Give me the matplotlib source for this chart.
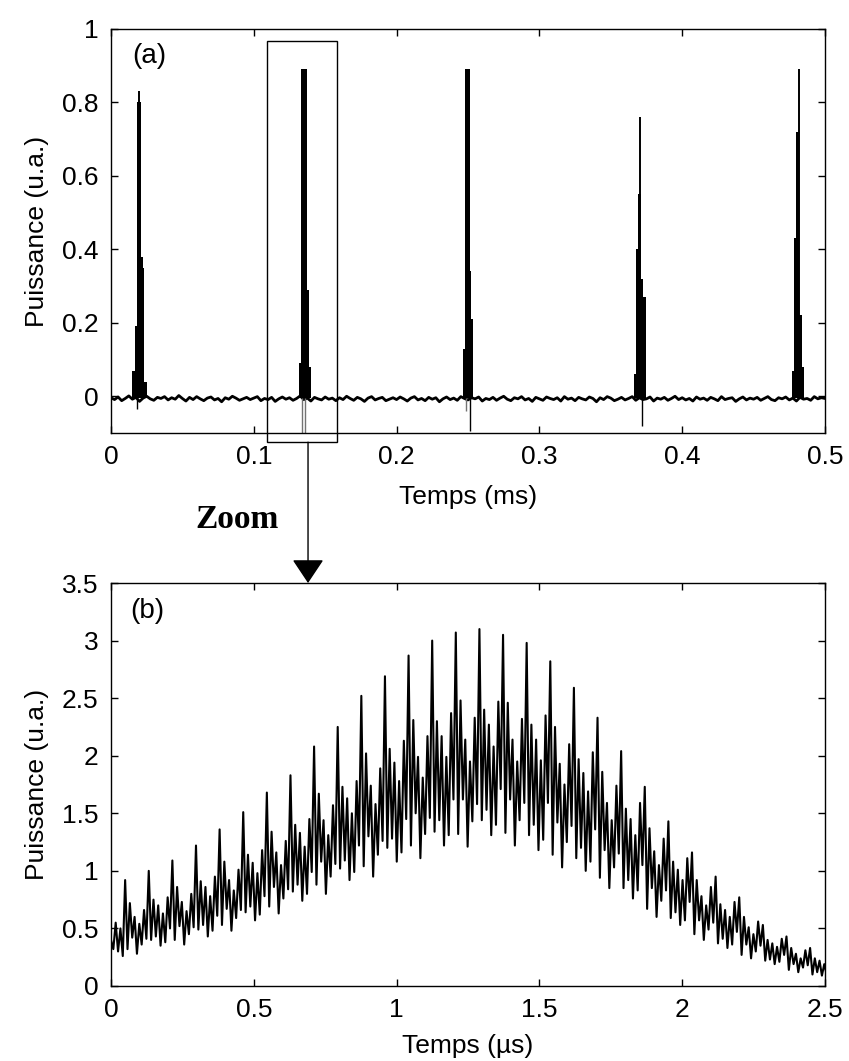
import numpy as np
import matplotlib.pyplot as plt
from matplotlib.patches import Rectangle, ConnectionPatch

plt.rcParams['font.family'] = ['Liberation Sans', 'DejaVu Sans']

# ---- panel (a): pulse train ----
# baseline noise in thousandths of u.a., one sample every 0.0025 ms
noise_dt = 0.0025
noise_milli = [
    -4, -9, -2, -12, -6, 1, -8, -3, -14, -5, 0, -7, -11, -3, -6, -1, -10, -4, -8, 2,
    -6, -13, -3, -9, -1, -7, -12, -5, -2, -10, -6, -15, -4, -8, 0, -5, -11, -7, -3, -9,
    -5, -1, -12, -6, -9, -3, -14, -7, -2, -8, -4, -11, -6, 1, -9, -5, -13, -3, -7, -10,
    -2, -8, -5, -12, -4, -9, 0, -6, -11, -3, -7, -14, -5, -1, -10, -6, -3, -12, -8, -4,
    -9, -2, -7, -13, -5, -1, -10, -6, -12, -3, -8, -4, -15, -7, -2, -9, -5, -11, -1, -6,
    -10, -4, -7, -2, -13, -6, -9, -3, -11, -5, 0, -8, -12, -4, -7, -1, -10, -6, -14, -3,
    -7, -11, -2, -6, -9, -4, -13, -1, -8, -5, -12, -3, -7, -10, -2, -6, -15, -4, -9, -1,
    -5, -12, -8, -3, -10, -6, -1, -11, -4, -9, -7, -2, -13, -5, -8, -3, -11, -6, 0, -9,
    -4, -10, -6, -13, -2, -8, -5, -11, -3, -7, -12, -1, -9, -6, -4, -14, -7, -2, -10, -5,
    -8, -3, -11, -6, -1, -9, -12, -4, -7, -2, -10, -5, -13, -3, -8, -6, -11, -1, -7, -4,
    -6,
]

# envelope of each pulse (step edges in ms, levels in u.a.)
pulse_edges = [
    [0.0150, 0.0168, 0.0180, 0.0208, 0.0222, 0.0234, 0.0250],
    [0.1318, 0.1332, 0.1372, 0.1388, 0.1400],
    [0.2466, 0.2482, 0.2511, 0.2522, 0.2536],
    [0.3663, 0.3677, 0.3691, 0.3710, 0.3728, 0.3745],
    [0.4766, 0.4785, 0.4797, 0.4820, 0.4839, 0.4855],
]
pulse_levels = [
    [0.07, 0.19, 0.80, 0.38, 0.35, 0.04],
    [0.09, 0.89, 0.29, 0.08],
    [0.13, 0.89, 0.34, 0.21],
    [0.06, 0.40, 0.55, 0.32, 0.27],
    [0.07, 0.43, 0.72, 0.22, 0.08],
]
needle_t = [0.0199, 0.1350, 0.2495, 0.3705, 0.4818]
needle_v = [0.83, 0.89, 0.89, 0.76, 0.89]
dip_t = [0.0185, 0.1337, 0.1360, 0.2487, 0.2515, 0.3720]
dip_v = [-0.035, -0.13, -0.13, -0.04, -0.095, -0.08]
dip_grey = [False, True, True, True, False, False]

# zoom window drawn around the second pulse
box_t = [0.109, 0.1585]
box_v = [-0.125, 0.967]
arrow_t_ms = 0.138
arrow_t_us = 0.69

# ---- panel (b): one pulse, sampled every 0.00827 us ----
zoom_dt = 0.00827
zoom_lead = [0.40, 0.32, 0.55, 0.30, 0.50, 0.26]
zoom_groups = [
    [0.92, 0.32, 0.72, 0.42, 0.60, 0.28, 0.54, 0.36, 0.66, 0.41],
    [1.00, 0.40, 0.75, 0.43, 0.70, 0.35, 0.63, 0.38, 0.77, 0.50],
    [1.09, 0.40, 0.86, 0.52, 0.73, 0.36, 0.65, 0.45, 0.80, 0.51],
    [1.22, 0.49, 0.91, 0.53, 0.86, 0.43, 0.78, 0.48, 0.95, 0.61],
    [1.36, 0.53, 1.08, 0.67, 0.92, 0.48, 0.83, 0.59, 1.01, 0.66],
    [1.51, 0.64, 1.14, 0.69, 1.07, 0.57, 0.98, 0.62, 1.18, 0.78],
    [1.68, 0.69, 1.34, 0.86, 1.16, 0.63, 1.05, 0.76, 1.26, 0.84],
    [1.83, 0.82, 1.40, 0.88, 1.33, 0.74, 1.21, 0.80, 1.45, 0.99],
    [2.08, 0.88, 1.67, 1.08, 1.44, 0.80, 1.31, 0.95, 1.57, 1.06],
    [2.25, 1.02, 1.73, 1.09, 1.63, 0.92, 1.50, 0.99, 1.78, 1.22],
    [2.52, 1.04, 2.02, 1.30, 1.74, 0.95, 1.58, 1.14, 1.89, 1.26],
    [2.69, 1.20, 2.06, 1.28, 1.94, 1.08, 1.78, 1.16, 2.13, 1.45],
    [2.87, 1.22, 2.31, 1.50, 1.99, 1.11, 1.81, 1.32, 2.17, 1.46],
    [3.00, 1.34, 2.30, 1.44, 2.17, 1.22, 1.99, 1.31, 2.37, 1.62],
    [3.07, 1.32, 2.48, 1.62, 2.14, 1.21, 1.95, 1.43, 2.33, 1.58],
    [3.10, 1.44, 2.40, 1.53, 2.27, 1.31, 2.08, 1.40, 2.47, 1.71],
    [3.05, 1.33, 2.46, 1.62, 2.14, 1.22, 1.95, 1.44, 2.32, 1.59],
    [2.98, 1.31, 2.27, 1.40, 2.14, 1.18, 1.96, 1.27, 2.35, 1.59],
    [2.82, 1.14, 2.25, 1.42, 1.93, 1.03, 1.75, 1.25, 2.10, 1.39],
    [2.59, 1.11, 1.97, 1.20, 1.85, 1.00, 1.69, 1.08, 2.03, 1.36],
    [2.33, 0.94, 1.86, 1.18, 1.59, 0.85, 1.44, 1.03, 1.74, 1.15],
    [2.04, 0.85, 1.54, 0.92, 1.45, 0.76, 1.31, 0.83, 1.59, 1.05],
    [1.73, 0.67, 1.37, 0.85, 1.17, 0.60, 1.05, 0.74, 1.28, 0.83],
    [1.43, 0.59, 1.08, 0.64, 1.01, 0.53, 0.92, 0.57, 1.11, 0.73],
    [1.16, 0.45, 0.92, 0.57, 0.78, 0.40, 0.70, 0.49, 0.86, 0.55],
    [0.95, 0.37, 0.71, 0.41, 0.66, 0.33, 0.60, 0.36, 0.73, 0.47],
    [0.77, 0.27, 0.60, 0.36, 0.51, 0.24, 0.45, 0.30, 0.56, 0.35],
    [0.53, 0.22, 0.40, 0.23, 0.37, 0.19, 0.34, 0.21, 0.41, 0.27],
    [0.43, 0.14, 0.33, 0.19, 0.28, 0.12, 0.24, 0.16, 0.31, 0.18],
    [0.33, 0.10, 0.24, 0.12, 0.22, 0.09, 0.19, 0.10, 0.25, 0.14],
]

top_xticks = [0, 0.1, 0.2, 0.3, 0.4, 0.5]
top_yticks = [0, 0.2, 0.4, 0.6, 0.8, 1]
bot_xticks = [0, 0.5, 1, 1.5, 2, 2.5]
bot_yticks = [0, 0.5, 1, 1.5, 2, 2.5, 3, 3.5]


def fmt(v):
    return ('%g' % v)


fig = plt.figure(figsize=(8.49, 10.61), dpi=100)
ax1 = fig.add_axes([0.1307, 0.5919, 0.841, 0.3808])
ax2 = fig.add_axes([0.1307, 0.0707, 0.841, 0.3798])

# panel (a)
noise = np.array(noise_milli) / 1000.0
t_noise = np.arange(len(noise)) * noise_dt
ax1.plot(t_noise, noise, color='k', lw=2.0)
for edges, levels in zip(pulse_edges, pulse_levels):
    ax1.stairs(levels, edges, baseline=-0.005, fill=True, color='k', lw=1.2)
ax1.vlines(needle_t, -0.005, needle_v, color='k', lw=1.4)
for t, v, g in zip(dip_t, dip_v, dip_grey):
    ax1.vlines(t, -0.005, v, color='0.45' if g else 'k', lw=1.0)

ax1.add_patch(Rectangle((box_t[0], box_v[0]), box_t[1] - box_t[0], box_v[1] - box_v[0],
                        fill=False, ec='k', lw=1.0, clip_on=False))

ax1.set_xlim(0, 0.5)
ax1.set_ylim(-0.1, 1)
ax1.set_xticks(top_xticks)
ax1.set_xticklabels([fmt(v) for v in top_xticks])
ax1.set_yticks(top_yticks)
ax1.set_yticklabels([fmt(v) for v in top_yticks])
ax1.set_xlabel('Temps (ms)', fontsize=19, labelpad=11)
ax1.set_ylabel('Puissance (u.a.)', fontsize=19, labelpad=9)
ax1.text(0.03, 0.965, '(a)', transform=ax1.transAxes, fontsize=20, va='top', ha='left')

# panel (b)
samples = list(zoom_lead)
for g in zoom_groups:
    samples.extend(g)
samples = np.array(samples)
t_zoom = np.arange(len(samples)) * zoom_dt
ax2.plot(t_zoom, samples, color='k', lw=1.5)

ax2.set_xlim(0, 2.5)
ax2.set_ylim(0, 3.5)
ax2.set_xticks(bot_xticks)
ax2.set_xticklabels([fmt(v) for v in bot_xticks])
ax2.set_yticks(bot_yticks)
ax2.set_yticklabels([fmt(v) for v in bot_yticks])
ax2.set_xlabel('Temps (\u00b5s)', fontsize=19, labelpad=8)
ax2.set_ylabel('Puissance (u.a.)', fontsize=19, labelpad=9)
ax2.text(0.027, 0.963, '(b)', transform=ax2.transAxes, fontsize=20, va='top', ha='left')

for ax in (ax1, ax2):
    ax.tick_params(direction='in', top=True, right=True, length=5, width=1,
                   labelsize=19, pad=9)
    for s in ax.spines.values():
        s.set_linewidth(1.0)

# zoom arrow from the box down to panel (b)
con = ConnectionPatch(xyA=(arrow_t_ms, box_v[0]), coordsA=ax1.transData,
                      xyB=(arrow_t_us, 3.5), coordsB=ax2.transData,
                      arrowstyle='-|>,head_length=0.75,head_width=0.5',
                      mutation_scale=20, color='k', lw=1.0)
fig.add_artist(con)
fig.text(237 / 849, 1 - 520 / 1061, 'Zoom', family=['Liberation Serif', 'DejaVu Serif'],
         weight='bold', fontsize=24, ha='center', va='center')

fig.savefig('out.png', dpi=100)
